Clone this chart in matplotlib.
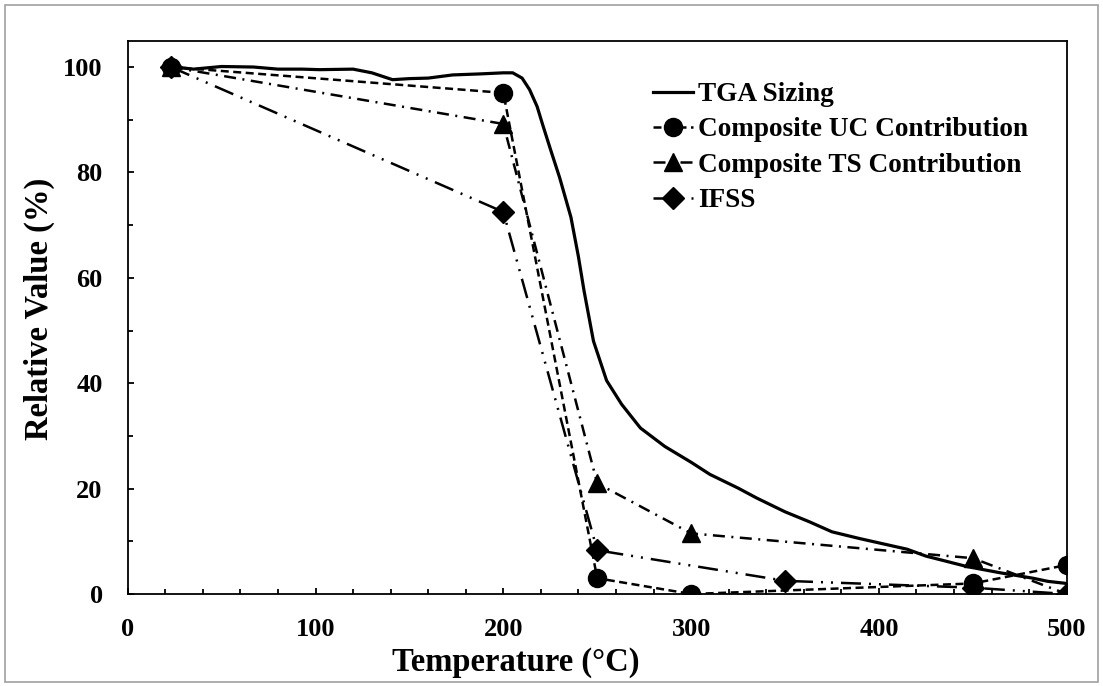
import numpy as np
import matplotlib
matplotlib.use('Agg')
import matplotlib.pyplot as plt
import matplotlib.ticker as ticker
from matplotlib.patches import Rectangle

plt.rcParams['font.family'] = ['Liberation Serif', 'DejaVu Serif']
plt.rcParams['font.weight'] = 'bold'

# TGA mass loss of the sizing (relative %)
tga_T = [25, 35, 50, 67, 80, 93, 102, 120, 130, 141, 150, 160, 173, 188, 200, 205,
         210, 214, 218, 221, 225, 230, 236, 240, 243, 248, 255, 263, 273, 286, 300,
         310, 325, 335, 350, 363, 375, 390, 415, 425, 447, 465, 482, 490, 500]
tga_V = [100.0, 99.6, 100.1, 100.0, 99.6, 99.6, 99.5, 99.6, 98.9, 97.6, 97.8, 97.9, 98.5, 98.7, 98.9, 98.9,
         97.9, 95.7, 92.5, 89.0, 84.5, 79.0, 71.5, 64.0, 57.5, 48.0, 40.5, 36.0, 31.5, 28.0, 25.0,
         22.7, 20.1, 18.2, 15.6, 13.7, 11.8, 10.5, 8.5, 7.2, 5.2, 4.0, 3.0, 2.4, 2.0]

# composite / interface results
uc_T = [23, 200, 250, 300, 450, 500]
uc_V = [100, 95.1, 3.0, 0.0, 2.0, 5.5]

ts_T = [23, 200, 250, 300, 450, 500]
ts_V = [100, 89.2, 21.0, 11.5, 6.8, 0.0]

ifss_T = [23, 200, 250, 350, 450, 500]
ifss_V = [100, 72.5, 8.3, 2.5, 1.2, 0.0]

fig = plt.figure(figsize=(11.03, 6.86), dpi=100)
ax = fig.add_axes([0.1158, 0.1341, 0.8513, 0.8066])

ax.plot(tga_T, tga_V, color='black', lw=2.3, ls='-', label='TGA Sizing')
ax.plot(uc_T, uc_V, color='black', lw=1.8, ls=(0, (3.2, 1.8)),
        marker='o', markersize=13, label='Composite UC Contribution')
ax.plot(ts_T, ts_V, color='black', lw=1.8, ls=(0, (4.8, 2.6, 0.8, 2.6)),
        marker='^', markersize=13, label='Composite TS Contribution')
ax.plot(ifss_T, ifss_V, color='black', lw=1.8, ls=(0, (8, 3.2, 0.8, 3.2, 0.8, 3.2)),
        marker='D', markersize=11.5, label='IFSS')

ax.set_xlim(0, 500)
ax.set_ylim(0, 105)
ax.xaxis.set_major_locator(ticker.MultipleLocator(100))
ax.xaxis.set_minor_locator(ticker.MultipleLocator(20))
ax.yaxis.set_major_locator(ticker.MultipleLocator(20))
ax.yaxis.set_minor_locator(ticker.MultipleLocator(10))
ax.tick_params(which='both', direction='in', top=False, right=False,
               width=1.3, labelsize=19)
ax.tick_params(which='major', length=4.5)
ax.tick_params(which='minor', length=3.3)
ax.tick_params(axis='x', pad=17)
ax.tick_params(axis='y', pad=18)
for s in ax.spines.values():
    s.set_linewidth(1.3)

ax.set_xlabel('Temperature (°C)', fontsize=23.5, fontweight='bold')
ax.set_ylabel('Relative Value (%)', fontsize=23.5, fontweight='bold')
ax.xaxis.set_label_coords(0.4135, -0.095)
ax.yaxis.set_label_coords(-0.077, 0.515)

leg = ax.legend(loc='upper left', bbox_to_anchor=(0.548, 0.945), frameon=False,
                fontsize=19.6, handlelength=1.45, handletextpad=0.2, labelspacing=0.38,
                borderaxespad=0)

# outer chart border
fig.patches.append(Rectangle((0.0045, 0.0058), 0.991, 0.987, transform=fig.transFigure,
                             fill=False, edgecolor='#a0a0a0', lw=1.2))

fig.savefig('out.png', dpi=100)
